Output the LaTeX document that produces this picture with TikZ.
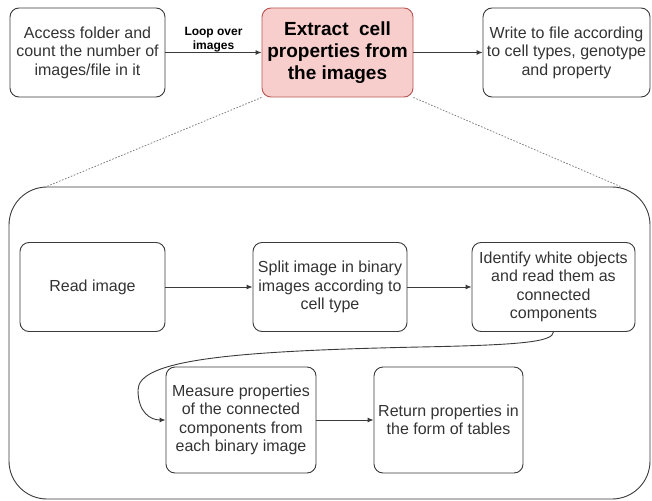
\documentclass[tikz,border=0pt]{standalone}
\usepackage{fontspec}
\setmainfont{Liberation Sans}
\usetikzlibrary{arrows.meta}

\definecolor{stepline}{HTML}{3A3A3A}
\definecolor{steptext}{HTML}{333333}
\definecolor{hotfill}{HTML}{F8CECC}
\definecolor{hotline}{HTML}{B85450}

\tikzstyle{stepbox}=[draw=stepline, line width=0.9pt, rounded corners=9pt, align=center, inner sep=0pt, text=steptext, font=\fontsize{16}{18.5}\selectfont]
\tikzstyle{hotbox}=[stepbox, fill=hotfill, draw=hotline, text=black, font=\bfseries\fontsize{19}{22}\selectfont]
\tikzstyle{flow}=[draw=stepline, line width=0.9pt, -{Latex[length=6pt,width=5pt]}]
\tikzstyle{zoomline}=[draw=gray, line width=0.8pt, dash pattern=on 1.6pt off 1.6pt]

\begin{document}
\begin{tikzpicture}[x=1pt, y=-1pt]
	\useasboundingbox (0,0) rectangle (652,500);

	% Top row of the pipeline
	\node[stepbox, minimum width=155, minimum height=89] (access) at (87.5, 52.5) {Access folder and\\count the number of\\images/file in it};
	\node[hotbox, minimum width=151, minimum height=89] (extract) at (337.5, 52.5) {Extract\ \ cell\\properties from\\the images};
	\node[stepbox, minimum width=167, minimum height=89] (write) at (566.5, 52.5) {Write to file according\\to cell types, genotype\\and property};

	\draw[flow] (access) -- node[above=-1pt, align=center, inner sep=1pt, font=\bfseries\fontsize{12}{14.5}\selectfont] (loop) {Loop over\\images} (extract);
	\draw[flow] (extract) -- (write);

	% Detail of the extraction step
	\node[stepbox, rounded corners=38pt, minimum width=641, minimum height=312] (detail) at (329.5, 343) {};

	\draw[zoomline] (extract.south west) -- ([xshift=38pt]detail.north west);
	\draw[zoomline] (extract.south east) -- ([xshift=-30pt]detail.north east);

	\node[stepbox, minimum width=145, minimum height=89] (read) at (92.5, 287) {Read image};
	\node[stepbox, minimum width=154, minimum height=89] (split) at (330, 287) {Split image in binary\\images according to\\cell type};
	\node[stepbox, minimum width=163, minimum height=89] (identify) at (553.5, 287) {Identify white objects\\and read them as\\connected\\components};

	\node[stepbox, minimum width=150, minimum height=106] (measure) at (241, 420) {Measure properties\\of the connected\\components from\\each binary image};
	\node[stepbox, minimum width=149, minimum height=106] (return) at (448.5, 420) {Return properties in\\the form of tables};

	\draw[flow] (read) -- (split);
	\draw[flow] (split) -- (identify);
	\draw[flow] (identify.south) .. controls (553,342) and (520,345) .. (420,347)
		.. controls (230,351) and (138,360) .. (138,390)
		.. controls (138,412) and (150,420) .. (measure.west);
	\draw[flow] (measure) -- (return);
\end{tikzpicture}
\end{document}
